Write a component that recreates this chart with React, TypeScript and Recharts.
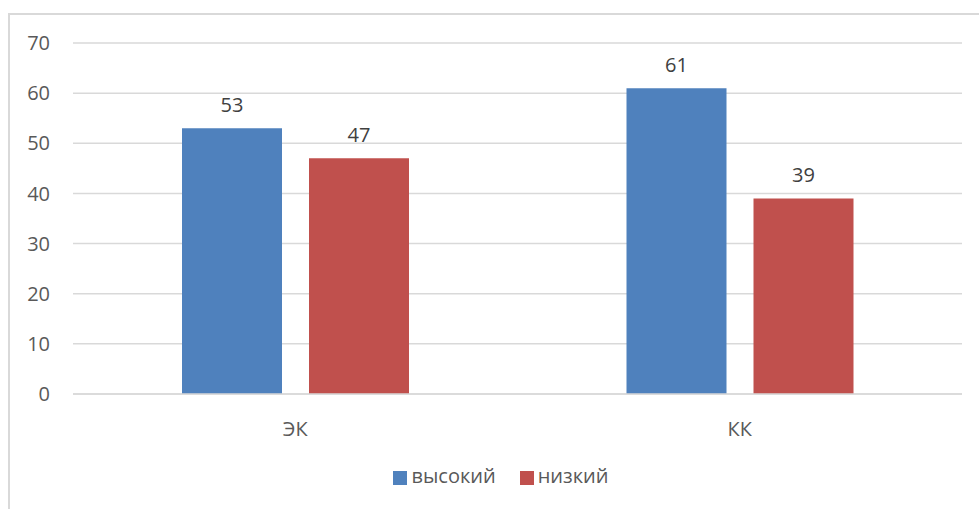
import React from 'react';
import { BarChart, Bar, XAxis, YAxis, CartesianGrid, Legend, LabelList } from 'recharts';

const categories = ['ЭК', 'КК'];
const highValues = [53, 61];
const lowValues = [47, 39];
const yTicks = [0, 10, 20, 30, 40, 50, 60, 70];

const data = categories.map((name, i) => ({
    name,
    high: highValues[i],
    low: lowValues[i],
}));

const FONT = '"Open Sans", "Noto Sans", sans-serif';
const TEXT = '#595959';

export default function App() {
    return (
        <div style={{ position: 'absolute', left: 0, top: 0, width: 979, height: 509, overflow: 'hidden', background: '#fff', fontFamily: FONT }}>
            <div style={{ position: 'absolute', left: 8, top: 13, width: 980, height: 520, border: '2px solid #d9d9d9', boxSizing: 'border-box' }} />
            <BarChart
                width={979}
                height={509}
                data={data}
                margin={{ top: 43, right: 17, left: 8, bottom: 48 }}
                barGap={27}
                barSize={100}
                style={{ position: 'absolute', left: 0, top: 0 }}
            >
                <CartesianGrid vertical={false} stroke="#d9d9d9" strokeWidth={1.5} />
                <XAxis
                    dataKey="name"
                    axisLine={{ stroke: '#d9d9d9', strokeWidth: 1.5 }}
                    tickLine={false}
                    tick={{ fill: TEXT, fontSize: 20, fontFamily: FONT }}
                    tickMargin={22}
                    height={40}
                />
                <YAxis
                    domain={[0, 70]}
                    ticks={yTicks}
                    axisLine={false}
                    tickLine={false}
                    tickSize={0}
                    tickMargin={23}
                    width={65}
                    tick={{ fill: TEXT, fontSize: 20, fontFamily: FONT }}
                />
                <Legend
                    verticalAlign="bottom"
                    iconType="square"
                    iconSize={14}
                    wrapperStyle={{ fontSize: 20, fontFamily: FONT, color: TEXT, top: 462, bottom: 'auto', left: 36 }}
                    formatter={(value) => <span style={{ color: TEXT, marginRight: 14 }}>{value}</span>}
                />
                <Bar dataKey="high" name="высокий" fill="#4f81bd" isAnimationActive={false}>
                    <LabelList dataKey="high" position="top" offset={16} fill="#404040" fontSize={20} fontFamily={FONT} />
                </Bar>
                <Bar dataKey="low" name="низкий" fill="#c0504d" isAnimationActive={false}>
                    <LabelList dataKey="low" position="top" offset={16} fill="#404040" fontSize={20} fontFamily={FONT} />
                </Bar>
            </BarChart>
        </div>
    );
}
